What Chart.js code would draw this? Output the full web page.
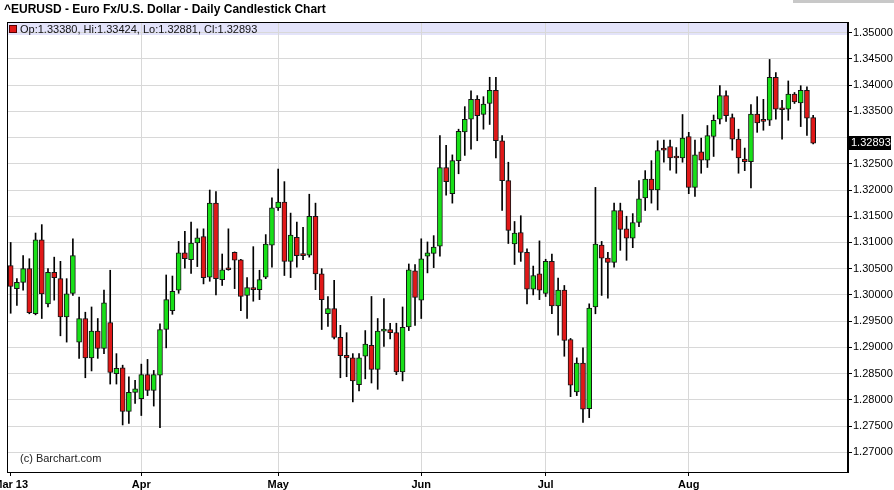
<!DOCTYPE html>
<html>
<head>
<meta charset="utf-8">
<title>EURUSD Daily Candlestick</title>
<script src="https://cdn.jsdelivr.net/npm/chart.js@4.4.1/dist/chart.umd.min.js"></script>
<style>
  html, body { margin: 0; padding: 0; background: #fff; }
  #wrap { position: relative; width: 894px; height: 490px; }
</style>
</head>
<body>
<div id="wrap"><canvas id="chart"></canvas></div>
<script>
const chartTitle = '^EURUSD - Euro Fx/U.S. Dollar - Daily Candlestick Chart';
const sourceNote = '(c) Barchart.com';

// month ticks: index of first trading day of each month (Mar 1 2013 = 0)
const monthTickIndex = [0, 21, 43, 66, 86, 109];
const monthTickLabels = ['Mar 13', 'Apr', 'May', 'Jun', 'Jul', 'Aug'];

const priceTicks = [1.270, 1.275, 1.280, 1.285, 1.290, 1.295, 1.300, 1.305, 1.310,
                    1.315, 1.320, 1.325, 1.330, 1.335, 1.340, 1.345, 1.350];

// daily OHLC, Mar 1 -> Aug 29 2013
const opens = [
  1.3056, 1.3012, 1.3024, 1.3050, 1.2964, 1.3105, 1.2983, 1.3043, 1.3031, 1.2958,
  1.3003, 1.2910, 1.2955, 1.2880, 1.2931, 1.2898, 1.2947, 1.2850, 1.2861, 1.2778,
  1.2814, 1.2802, 1.2848, 1.2818, 1.2847, 1.2934, 1.2970, 1.3009, 1.3080, 1.3067,
  1.3099, 1.3111, 1.3034, 1.3175, 1.3029, 1.3050, 1.3081, 1.3067, 1.2999, 1.3014,
  1.3010, 1.3034, 1.3095, 1.3166, 1.3177, 1.3064, 1.3110, 1.3077, 1.3076, 1.3150,
  1.3040, 1.2964, 1.2974, 1.2919, 1.2885, 1.2880, 1.2829, 1.2883, 1.2904, 1.2858,
  1.2931, 1.2934, 1.2928, 1.2853, 1.2939, 1.3046, 1.2990, 1.3074, 1.3079, 1.3093,
  1.3243, 1.3193, 1.3256, 1.3311, 1.3335, 1.3373, 1.3344, 1.3365, 1.3390, 1.3294,
  1.3218, 1.3097, 1.3119, 1.3081, 1.3011, 1.3040, 1.3003, 1.3064, 1.2979, 1.3009,
  1.2915, 1.2815, 1.2870, 1.2783, 1.2977, 1.3095, 1.3070, 1.3062, 1.3161, 1.3126,
  1.3108, 1.3138, 1.3185, 1.3221, 1.3200, 1.3278, 1.3283, 1.3262, 1.3261, 1.3302,
  1.3205, 1.3273, 1.3257, 1.3302, 1.3335, 1.3380, 1.3338, 1.3297, 1.3259, 1.3254,
  1.3345, 1.3333, 1.3333, 1.3415, 1.3354, 1.3354, 1.3383, 1.3366, 1.3390, 1.33380
];
const highs = [
  1.3100, 1.3031, 1.3075, 1.3069, 1.3118, 1.3134, 1.3050, 1.3072, 1.3064, 1.3031,
  1.3107, 1.2996, 1.2967, 1.2977, 1.2955, 1.3009, 1.3047, 1.2888, 1.2866, 1.2844,
  1.2837, 1.2868, 1.2877, 1.2856, 1.2945, 1.3038, 1.3036, 1.3102, 1.3121, 1.3139,
  1.3126, 1.3126, 1.3200, 1.3197, 1.3078, 1.3126, 1.3082, 1.3068, 1.3033, 1.3092,
  1.3047, 1.3115, 1.3185, 1.3240, 1.3216, 1.3156, 1.3139, 1.3129, 1.3192, 1.3175,
  1.3050, 1.2997, 1.3028, 1.2942, 1.2928, 1.2888, 1.2888, 1.2932, 1.2997, 1.2955,
  1.2993, 1.2946, 1.2946, 1.2977, 1.3059, 1.3058, 1.3107, 1.3101, 1.3113, 1.3304,
  1.3285, 1.3267, 1.3316, 1.3359, 1.3389, 1.3380, 1.3378, 1.3415, 1.3415, 1.3304,
  1.3253, 1.3140, 1.3151, 1.3088, 1.3055, 1.3103, 1.3068, 1.3078, 1.3032, 1.3018,
  1.2917, 1.2880, 1.2899, 1.2983, 1.3205, 1.3102, 1.3081, 1.3175, 1.3175, 1.3150,
  1.3155, 1.3218, 1.3237, 1.3256, 1.3294, 1.3295, 1.3295, 1.3281, 1.3344, 1.3310,
  1.3295, 1.3299, 1.3323, 1.3343, 1.3399, 1.3389, 1.3345, 1.3316, 1.3280, 1.3363,
  1.3378, 1.3373, 1.3449, 1.3424, 1.3371, 1.3408, 1.3386, 1.3399, 1.3397, 1.33424
];
const lows = [
  1.2965, 1.2980, 1.3009, 1.2964, 1.2962, 1.2955, 1.2977, 1.2990, 1.2922, 1.2910,
  1.2999, 1.2879, 1.2842, 1.2855, 1.2879, 1.2888, 1.2830, 1.2830, 1.2752, 1.2755,
  1.2793, 1.2770, 1.2808, 1.2788, 1.2747, 1.2899, 1.2963, 1.3003, 1.3051, 1.3041,
  1.3054, 1.3021, 1.3026, 1.3000, 1.3018, 1.3047, 1.3012, 1.2970, 1.2955, 1.2988,
  1.2991, 1.3031, 1.3053, 1.3161, 1.3037, 1.3033, 1.3053, 1.3067, 1.3072, 1.3010,
  1.2934, 1.2940, 1.2916, 1.2842, 1.2844, 1.2796, 1.2817, 1.2840, 1.2832, 1.2820,
  1.2902, 1.2916, 1.2848, 1.2836, 1.2932, 1.2942, 1.2955, 1.3042, 1.3052, 1.3074,
  1.3190, 1.3175, 1.3231, 1.3266, 1.3278, 1.3294, 1.3316, 1.3325, 1.3261, 1.3161,
  1.3098, 1.3058, 1.3064, 1.2983, 1.3000, 1.2991, 1.2997, 1.2964, 1.2923, 1.2883,
  1.2806, 1.2808, 1.2757, 1.2766, 1.2964, 1.2999, 1.2994, 1.3053, 1.3085, 1.3066,
  1.3090, 1.3130, 1.3161, 1.3175, 1.3162, 1.3253, 1.3238, 1.3232, 1.3253, 1.3193,
  1.3188, 1.3232, 1.3243, 1.3264, 1.3326, 1.3331, 1.3276, 1.3232, 1.3237, 1.3204,
  1.3310, 1.3314, 1.3323, 1.3335, 1.3297, 1.3333, 1.3365, 1.3321, 1.3304, 1.32881
];
const closes = [
  1.3016, 1.3024, 1.3050, 1.2966, 1.3105, 1.3002, 1.3043, 1.3033, 1.2958, 1.3002,
  1.3075, 1.2955, 1.2880, 1.2931, 1.2898, 1.2985, 1.2852, 1.2860, 1.2778, 1.2814,
  1.2821, 1.2848, 1.2818, 1.2848, 1.2934, 1.2991, 1.3007, 1.3080, 1.3069, 1.3099,
  1.3109, 1.3033, 1.3175, 1.3031, 1.3048, 1.3048, 1.3066, 1.2997, 1.3014, 1.3010,
  1.3029, 1.3097, 1.3166, 1.3177, 1.3064, 1.3114, 1.3075, 1.3075, 1.3150, 1.3040,
  1.2991, 1.2974, 1.2919, 1.2884, 1.2880, 1.2836, 1.2880, 1.2906, 1.2858, 1.2931,
  1.2932, 1.2928, 1.2853, 1.2938, 1.3048, 1.2995, 1.3069, 1.3080, 1.3091, 1.3243,
  1.3216, 1.3256, 1.3312, 1.3335, 1.3373, 1.3342, 1.3364, 1.3390, 1.3294, 1.3218,
  1.3123, 1.3118, 1.3081, 1.3011, 1.3037, 1.3009, 1.3064, 1.2979, 1.3009, 1.2913,
  1.2828, 1.2870, 1.2782, 1.2975, 1.3097, 1.3070, 1.3062, 1.3161, 1.3125, 1.3108,
  1.3138, 1.3183, 1.3221, 1.3200, 1.3275, 1.3276, 1.3261, 1.3261, 1.3299, 1.3205,
  1.3267, 1.3257, 1.3304, 1.3333, 1.3380, 1.3342, 1.3297, 1.3261, 1.3254, 1.3345,
  1.3328, 1.3331, 1.3415, 1.3354, 1.3353, 1.3383, 1.3368, 1.3390, 1.3337, 1.32893
];

const FONT = '"Liberation Sans", Arial, Helvetica, sans-serif';
const GREEN = '#18e018';
const RED = '#e01818';
const GRID = '#d8d8d8';
const last = closes.length - 1;

const isUp = i => closes[i] >= opens[i];

const wickData = highs.map((h, i) => ({ x: i, y: [lows[i], h] }));
const bodyData = opens.map((o, i) => ({ x: i, y: [o, closes[i]] }));

// title, legend band, frame, source note, last price box
const decor = {
  id: 'decor',
  beforeDraw(chart) {
    const { ctx, chartArea: a } = chart;
    ctx.save();
    ctx.fillStyle = '#fff';
    ctx.fillRect(0, 0, chart.width, chart.height);
    ctx.fillStyle = '#c8c8c8';
    ctx.fillRect(793, 0, 101, 3);
    ctx.fillStyle = '#e3e3fa';
    ctx.fillRect(a.left, a.top, a.right - a.left, 13);
    ctx.restore();
  },
  afterDraw(chart) {
    const { ctx, chartArea: a, scales } = chart;
    ctx.save();
    ctx.strokeStyle = '#000';
    ctx.lineWidth = 1;
    ctx.strokeRect(Math.round(a.left) - 0.5, Math.round(a.top) + 0.5,
                   Math.round(a.right - a.left), Math.round(a.bottom - a.top));

    ctx.textBaseline = 'middle';
    ctx.fillStyle = '#000';
    ctx.font = 'bold 12px ' + FONT;
    ctx.fillText(chartTitle, 4, 10);

    ctx.fillStyle = RED;
    ctx.fillRect(10, 26, 6, 6);
    ctx.strokeStyle = '#500';
    ctx.strokeRect(9.5, 25.5, 7, 7);
    ctx.fillStyle = '#111';
    ctx.font = '11px ' + FONT;
    ctx.fillText('Op:' + opens[last].toFixed(5) + ', Hi:' + highs[last].toFixed(5) +
                 ', Lo:' + lows[last].toFixed(5) + ', Cl:' + closes[last].toFixed(5), 20, 30);

    ctx.fillStyle = '#222';
    ctx.fillText(sourceNote, 20, 459);

    const y = Math.round(scales.y.getPixelForValue(closes[last]));
    ctx.fillStyle = '#000';
    ctx.fillRect(a.right + 1, y - 7, 42, 14);
    ctx.fillStyle = '#fff';
    ctx.fillText(closes[last].toFixed(5), a.right + 3, y);
    ctx.restore();
  }
};

new Chart(document.getElementById('chart'), {
  type: 'bar',
  data: {
    datasets: [
      {
        label: 'Body',
        data: bodyData,
        order: 1,
        grouped: false,
        barThickness: 5,
        minBarLength: 2,
        backgroundColor: ctx => isUp(ctx.dataIndex) ? GREEN : RED,
        borderColor: '#151515',
        borderWidth: 1,
        borderSkipped: false
      },
      {
        label: 'Range',
        data: wickData,
        order: 2,
        grouped: false,
        barThickness: 1,
        backgroundColor: '#000',
        borderWidth: 0
      }
    ]
  },
  options: {
    responsive: true,
    maintainAspectRatio: false,
    animation: false,
    devicePixelRatio: 1,
    layout: { padding: { left: 8, top: 22, right: 0, bottom: 0 } },
    plugins: {
      legend: { display: false },
      title: { display: false },
      tooltip: { enabled: false }
    },
    scales: {
      x: {
        type: 'linear',
        offset: false,
        min: -0.43,
        max: 134.6,
        afterBuildTicks: s => { s.ticks = monthTickIndex.map(v => ({ value: v })); },
        afterFit: s => { s.height = 18; s.paddingLeft = 0; s.paddingRight = 0; },
        ticks: {
          autoSkip: false,
          maxRotation: 0,
          padding: 2,
          color: '#000',
          font: { family: FONT, size: 11, weight: 'bold' },
          callback: v => monthTickLabels[monthTickIndex.indexOf(v)]
        },
        grid: {
          offset: false,
          color: ctx => ctx.index === 0 ? 'rgba(0,0,0,0)' : GRID,
          tickColor: '#000',
          tickLength: 4
        },
        border: { display: true, color: '#000' }
      },
      y: {
        position: 'right',
        min: 1.26623,
        max: 1.35204,
        afterBuildTicks: s => { s.ticks = priceTicks.map(v => ({ value: v })); },
        afterFit: s => { s.width = 46; },
        ticks: {
          padding: 1,
          color: '#000',
          font: { family: FONT, size: 11 },
          callback: v => Math.abs(v - closes[last]) < 0.0035 ? '' : v.toFixed(5)
        },
        grid: { color: GRID, tickColor: '#000', tickLength: 4 },
        border: { display: true, color: '#000' }
      }
    }
  },
  plugins: [decor]
});
</script>
</body>
</html>
